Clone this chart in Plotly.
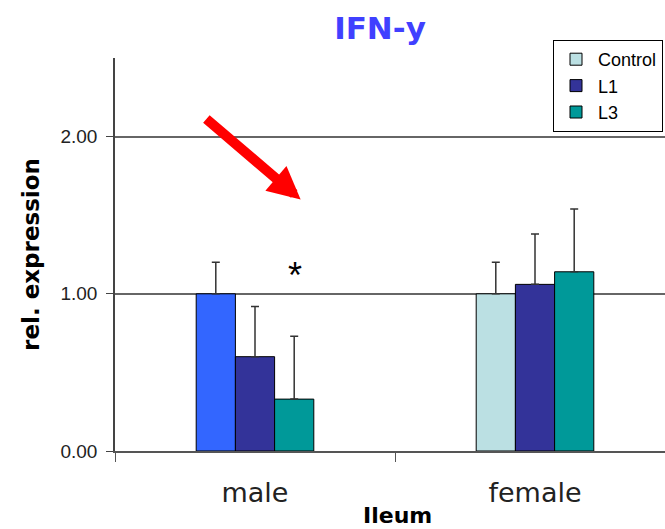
import plotly.graph_objects as go

# Relative IFN-y expression in the ileum, by sex and group
categories = ["male", "female"]
control = [1.00, 1.00]
control_err = [0.20, 0.20]
l1 = [0.60, 1.06]
l1_err = [0.32, 0.32]
l3 = [0.33, 1.14]
l3_err = [0.40, 0.40]
y_ticks = [0, 1, 2]

male_control_color = "#3366FF"
control_color = "#BBE0E3"
l1_color = "#333399"
l3_color = "#009999"

outline = dict(color="black", width=1)


def err(values):
    return dict(type="data", array=values, arrayminus=[0] * len(values),
                symmetric=False, color="#333333", thickness=1.5, width=4)


fig = go.Figure()
# Control: female bar carries the legend entry, male bar shares its slot
fig.add_trace(go.Bar(name="Control", x=categories[1:], y=control[1:],
                     error_y=err(control_err[1:]), offsetgroup="control",
                     marker=dict(color=control_color, line=outline)))
fig.add_trace(go.Bar(name="Control", x=categories[:1], y=control[:1],
                     error_y=err(control_err[:1]), offsetgroup="control",
                     showlegend=False,
                     marker=dict(color=male_control_color, line=outline)))
fig.add_trace(go.Bar(name="L1", x=categories, y=l1, error_y=err(l1_err),
                     offsetgroup="l1", marker=dict(color=l1_color, line=outline)))
fig.add_trace(go.Bar(name="L3", x=categories, y=l3, error_y=err(l3_err),
                     offsetgroup="l3", marker=dict(color=l3_color, line=outline)))

# significance mark and highlighting arrow over the male group
fig.add_annotation(x=0.143, y=1.115, xref="x", yref="y", text="*",
                   showarrow=False, font=dict(size=36, color="black",
                                              family="Liberation Sans"))
fig.add_annotation(x=0.163, y=1.60, ax=-0.179, ay=2.12, xref="x", yref="y",
                   axref="x", ayref="y", text="", showarrow=True,
                   arrowhead=2, arrowsize=0.65, arrowwidth=10,
                   arrowcolor="#FF0000")

# x-axis title placed under the category labels
fig.add_annotation(x=0.5145, y=-0.165,
                   xref="paper", yref="paper", xanchor="center",
                   yanchor="middle", text="<b>Ileum</b>", showarrow=False,
                   font=dict(family="DejaVu Sans", size=22, color="black"))

fig.update_layout(
    width=665, height=529,
    margin=dict(l=115, r=0, t=58, b=78),
    paper_bgcolor="white", plot_bgcolor="white",
    barmode="group", bargap=0.58, bargroupgap=0,
    title=dict(text="<b>IFN-y</b>", x=380 / 665, xanchor="center",
               y=1 - 28 / 529, yanchor="middle",
               font=dict(family="DejaVu Sans", size=31, color="#4040FF")),
    font=dict(family="Liberation Sans", color="#222222"),
    legend=dict(x=(553 - 115) / 550, xanchor="left",
                y=(451 - 40) / 393, yanchor="top",
                bordercolor="black", borderwidth=1, bgcolor="white",
                font=dict(size=18, color="black"), tracegroupgap=0,
                itemwidth=34),
    xaxis=dict(type="category", categoryorder="array",
               categoryarray=categories, range=[-0.5, 1.5 - 10 / 280],
               showgrid=False, showline=True, linecolor="#555555",
               linewidth=1.5, ticks="outside", tickson="boundaries",
               ticklen=9, tickcolor="#555555", ticklabelstandoff=17,
               tickfont=dict(family="DejaVu Sans", size=27, color="#222222")),
    yaxis=dict(range=[0, 2.5], tickvals=y_ticks, tickformat=".2f",
               showgrid=True, gridcolor="#666666", gridwidth=1.5,
               showline=True, linecolor="#444444", linewidth=1.5,
               ticks="outside", ticklen=7, tickcolor="#444444",
               zeroline=False, ticklabelstandoff=5,
               tickfont=dict(size=19, color="#222222"),
               title=dict(text="<b>rel. expression</b>", standoff=14,
                          font=dict(family="DejaVu Sans", size=23,
                                    color="black"))),
)

fig.write_html("out.html")
